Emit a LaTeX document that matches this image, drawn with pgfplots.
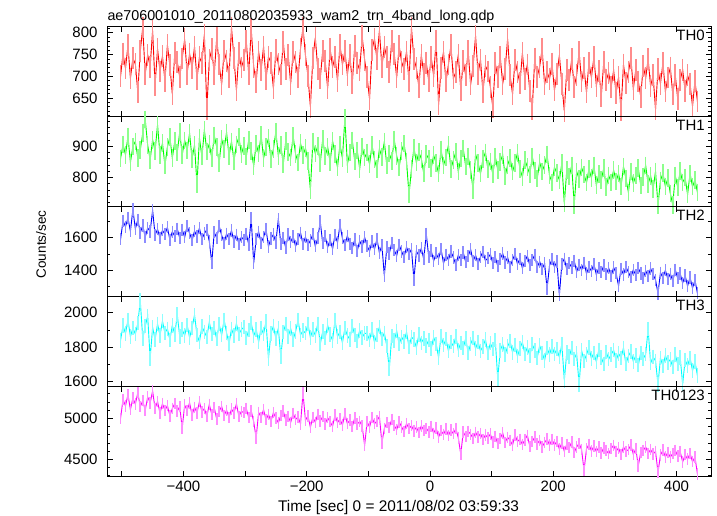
\documentclass[border=0pt]{standalone}
\usepackage{fontspec}
\setmainfont{Liberation Sans}
\usepackage{pgfplots}
\usepackage{pgfplotstable}
\pgfplotsset{compat=1.18}
\definecolor{qred}{RGB}{255,0,0}
\definecolor{qgreen}{RGB}{0,255,0}
\definecolor{qblue}{RGB}{0,0,255}
\definecolor{qcyan}{RGB}{0,255,255}
\definecolor{qmag}{RGB}{255,0,255}

\pgfplotstableread{
t a b c d e
-502 700 860 1590 1840 5000
-498 752 905 1705 1925 5230
-494 718 872 1668 1880 5150
-490 771 931 1722 1958 5290
-486 695 848 1640 1862 5105
-482 742 899 1775 1911 5248
-478 728 915 1655 1876 5172
-474 664 862 1712 1939 5311
-470 758 888 1630 2070 5140
-466 812 941 1676 1850 5215
-462 705 985 1604 1922 5096
-458 749 903 1661 1980 5260
-454 722 856 1638 1735 5188
-450 805 920 1770 1915 5332
-446 680 884 1617 1844 5120
-442 763 968 1652 1935 5205
-438 711 871 1599 1868 5062
-434 746 909 1646 1951 5178
-430 690 838 1621 1882 5095
-426 772 897 1664 1907 5154
-422 725 929 1588 1843 5030
-418 659 862 1637 1926 5120
-414 754 916 1609 1874 5178
-410 733 879 1655 1990 5087
-406 698 945 1598 1861 5142
-402 741 872 1650 1902 4880
-398 785 918 1603 1868 5160
-394 706 886 1672 1929 5095
-390 752 941 1628 1856 5188
-386 719 859 1584 1913 5040
-382 768 903 1641 1987 5135
-378 693 778 1607 1872 5066
-374 744 925 1659 1831 5202
-370 730 866 1592 1920 5078
-366 796 951 1626 1889 5119
-362 625 883 1650 1858 5025
-358 737 907 1577 1945 5170
-354 762 861 1445 1878 5048
-350 705 934 1633 1912 5129
-346 788 897 1598 1846 4990
-342 727 846 1672 1933 5084
-338 681 923 1615 1870 5146
-334 758 890 1569 1959 5033
-330 736 944 1624 1883 5098
-326 699 868 1591 1821 5010
-322 812 915 1645 1906 5112
-318 742 852 1576 1868 5064
-314 668 905 1618 1937 5177
-310 753 929 1563 1875 5021
-306 720 874 1604 1902 5085
-302 738 901 1587 1917 5068
-298 781 866 1625 1852 5120
-294 704 920 1558 1899 5006
-290 809 884 1720 1941 5091
-286 722 837 1442 1866 4958
-282 686 908 1590 1903 4760
-278 757 876 1637 1830 5073
-274 714 935 1569 1912 5012
-270 768 861 1603 1876 5105
-266 693 897 1654 1949 4982
-262 745 925 1546 1735 5047
-258 731 858 1595 1880 4961
-254 672 890 1620 1922 5068
-250 760 946 1571 1851 5003
-246 728 869 1715 1909 4944
-242 704 903 1562 1745 5036
-238 779 842 1598 1887 5089
-234 716 916 1539 1934 4978
-230 748 881 1620 1862 5023
-226 683 863 1574 1908 4950
-222 756 932 1608 1845 5061
-218 733 874 1547 1891 4987
-214 697 848 1592 1957 5018
-210 764 909 1631 1870 4932
-206 812 871 1560 1898 5310
-202 748 893 1604 1881 4975
-198 701 852 1556 1934 5030
-194 630 760 1583 1857 4890
-190 742 914 1621 1902 5011
-186 789 876 1548 1869 4952
-182 717 901 1597 1936 5048
-178 695 845 1700 1818 4967
-174 758 922 1565 1891 5020
-170 736 868 1609 1853 4931
-166 672 897 1541 1927 5006
-162 763 849 1588 1874 4958
-158 721 916 1532 1840 4902
-154 745 874 1617 1958 5039
-150 690 832 1570 1862 4947
-146 772 905 1680 1889 4991
-142 727 861 1596 1826 4918
-138 758 990 1553 1910 5050
-134 703 842 1612 1868 4936
-130 749 879 1562 1845 4977
-126 685 918 1535 1923 4899
-122 770 851 1589 1871 5004
-118 731 886 1518 1836 4928
-114 714 827 1580 1898 4962
-110 792 899 1546 1857 4905
-106 738 863 1602 1881 4670
-102 698 880 1549 1879 4958
-98 648 842 1518 1841 4892
-94 761 903 1576 1902 5010
-90 786 857 1530 1829 4933
-86 739 826 1592 1872 4969
-82 805 891 1507 1916 5021
-78 722 865 1553 1848 4700
-74 768 914 1365 1883 4875
-70 744 838 1541 1807 4946
-66 709 876 1502 1672 4890
-62 781 853 1568 1865 4985
-58 752 921 1523 1838 4912
-54 697 869 1489 1894 4861
-50 770 832 1557 1817 4957
-46 733 884 1515 1860 4894
-42 716 908 1480 1833 4838
-38 757 851 1542 1888 4936
-34 688 745 1498 1802 4873
-30 811 826 1529 1859 4910
-26 740 895 1340 1844 4847
-22 719 847 1516 1799 4892
-18 676 881 1490 1873 4825
-14 748 859 1534 1826 4908
-10 705 812 1467 1851 4854
-6 731 874 1625 1810 4879
-2 690 858 1482 1842 4835
2 744 829 1521 1793 4901
6 701 871 1456 1857 4818
10 782 846 1503 1820 4882
14 635 812 1470 1741 4770
18 719 889 1529 1866 4849
22 756 838 1441 1812 4803
26 688 864 1494 1847 4868
30 727 903 1462 1779 4790
34 771 827 1515 1831 4856
38 695 855 1478 1806 4811
42 710 881 1432 1862 4874
46 749 818 1492 1784 4762
50 669 860 1463 1825 4560
54 735 892 1508 1797 4833
58 702 835 1449 1850 4779
62 758 867 1486 1768 4842
66 681 823 1528 1818 4806
70 723 760 1455 1853 4755
74 793 874 1491 1792 4829
78 706 846 1439 1831 4770
82 738 812 1482 1779 4814
86 664 858 1513 1805 4742
90 724 880 1458 1844 4798
94 711 827 1474 1768 4761
98 676 851 1497 1823 4808
102 628 810 1443 1790 4712
106 730 866 1480 1842 4779
110 698 824 1425 1617 4690
114 745 849 1469 1781 4753
118 683 872 1502 1816 4820
122 716 803 1447 1757 4706
126 786 839 1478 1804 4768
130 702 862 1421 1835 4731
134 659 818 1463 1770 4672
138 737 845 1499 1812 4794
142 709 878 1438 1748 4718
146 684 827 1470 1793 4745
150 753 801 1412 1829 4680
154 694 856 1455 1762 4737
158 727 833 1487 1798 4793
162 666 809 1429 1751 4659
166 625 867 1461 1817 4714
170 741 822 1494 1782 4770
174 699 796 1417 1739 4688
178 722 848 1452 1809 4732
182 763 819 1406 1768 4651
186 681 840 1440 1724 4704
190 710 873 1285 1795 4746
194 694 806 1428 1758 4673
198 729 784 1467 1803 4741
202 668 832 1419 1761 4676
206 705 813 1453 1789 4719
210 748 791 1245 1742 4625
214 682 845 1438 1818 4701
218 620 716 1470 1608 4598
222 715 823 1404 1770 4682
226 691 802 1442 1745 4641
230 739 838 1416 1796 4710
234 676 712 1458 1732 4582
238 702 819 1389 1763 4650
242 756 794 1433 1583 4695
246 688 831 1401 1781 4618
250 719 809 1446 1720 4365
254 663 783 1378 1757 4627
258 731 826 1420 1799 4682
262 697 798 1393 1734 4603
266 744 838 1437 1768 4661
270 678 775 1371 1716 4594
274 712 811 1414 1785 4649
278 655 792 1386 1741 4576
282 733 829 1428 1702 4640
286 691 769 1375 1772 4608
290 708 806 1412 1730 4568
294 675 784 1363 1758 4631
298 714 823 1416 1783 4671
302 661 787 1381 1722 4598
306 698 812 1302 1764 4639
310 622 770 1408 1738 4555
314 727 834 1372 1796 4650
318 684 796 1419 1701 4597
322 709 752 1386 1749 4618
326 742 818 1355 1775 4672
330 671 781 1401 1718 4561
334 715 806 1368 1752 4630
338 688 829 1412 1696 4420
342 653 774 1379 1768 4585
346 724 801 1349 1733 4608
350 696 838 1396 1759 4651
354 739 779 1361 1905 4574
358 677 805 1410 1707 4619
362 702 762 1373 1744 4563
366 624 819 1339 1721 4597
370 716 710 1255 1583 4340
374 683 790 1384 1737 4552
378 731 813 1352 1690 4611
382 665 771 1398 1752 4530
386 697 797 1345 1711 4584
390 720 748 1377 1729 4526
394 658 712 1331 1684 4572
398 703 806 1402 1758 4610
402 648 768 1349 1702 4541
406 691 821 1378 1741 4593
410 715 784 1320 1585 4468
414 667 799 1366 1726 4555
418 702 745 1301 1693 4502
422 683 812 1354 1739 4571
426 631 770 1289 1664 4470
430 689 792 1337 1718 4528
434 642 752 1256 1635 4320
}\lc

\pgfplotsset{
  panel/.style={
    scale only axis, width=604pt, height=90pt,
    xmin=-524, xmax=456,
    xtick={-500,-400,...,400},
    xticklabels={},
    major tick length=5.5pt, minor tick length=3pt,
    tick style={black, line width=0.6pt},
    axis line style={line width=0.8pt},
    tick label style={font=\fontsize{15}{18}\selectfont},
    yticklabel style={xshift=-6pt},
    /pgf/number format/assume math mode=true,
    /pgf/number format/1000 sep={},
    anchor=south west,
  },
  errs/.style 2 args={only marks, mark=|, mark size=#2pt, forget plot,
    mark options={draw=#1!45!white, line width=1.6pt}},
  lnp/.style={color=#1, line width=0.9pt, mark=none},
}
\tikzset{
  lbl/.style={anchor=north east, inner sep=0pt, xshift=-6pt, yshift=-3pt,
    font=\fontsize{15}{18}\selectfont},
}

\begin{document}
\begin{tikzpicture}[x=1pt,y=1pt]
\useasboundingbox (0,0) rectangle (717,516);

\begin{axis}[panel, at={(107pt,399.3pt)}, ymin=607, ymax=814,
  ytick={650,700,750,800}, minor ytick={610,620,...,810}]
\addplot[errs={qred}{10.9}] table[x=t,y=a] {\lc};
\addplot[lnp=qred] table[x=t,y=a] {\lc};
\node[lbl] at (rel axis cs:1,1) {TH0};
\end{axis}

\begin{axis}[panel, at={(107pt,309.3pt)}, ymin=706, ymax=994,
  ytick={800,900}, minor ytick={720,740,...,980}]
\addplot[errs={qgreen}{8.8}] table[x=t,y=b] {\lc};
\addplot[lnp=qgreen] table[x=t,y=b] {\lc};
\node[lbl] at (rel axis cs:1,1) {TH1};
\end{axis}

\begin{axis}[panel, at={(107pt,219.3pt)}, ymin=1235, ymax=1792,
  ytick={1400,1600}, minor ytick={1300,1500,1700}]
\addplot[errs={qblue}{6.1}] table[x=t,y=c] {\lc};
\addplot[lnp=qblue] table[x=t,y=c] {\lc};
\node[lbl] at (rel axis cs:1,1) {TH2};
\end{axis}

\begin{axis}[panel, at={(107pt,129.3pt)}, ymin=1571, ymax=2093,
  ytick={1600,1800,2000}, minor ytick={1700,1900}]
\addplot[errs={qcyan}{7.2}] table[x=t,y=d] {\lc};
\addplot[lnp=qcyan] table[x=t,y=d] {\lc};
\node[lbl] at (rel axis cs:1,1) {TH3};
\end{axis}

\begin{axis}[panel, at={(107pt,39.3pt)}, ymin=4288, ymax=5385,
  ytick={4500,5000}, minor ytick={4300,4400,...,5300},
  xticklabels={,−400,,−200,,0,,200,,400},
  xticklabel style={yshift=-1pt}]
\addplot[errs={qmag}{5.7}] table[x=t,y=e] {\lc};
\addplot[lnp=qmag] table[x=t,y=e] {\lc};
\node[lbl] at (rel axis cs:1,1) {TH0123};
\end{axis}

\node[anchor=base west, inner sep=0pt, font=\fontsize{14.3}{17}\selectfont]
  at (107.3,495.3) {ae706001010\_20110802035933\_wam2\_trn\_4band\_long.qdp};
\node[anchor=base, inner sep=0pt, font=\fontsize{15.4}{18}\selectfont]
  at (398.5,4.3) {Time [sec] 0 = 2011/08/02 03:59:33};
\node[rotate=90, inner sep=0pt, font=\fontsize{13.5}{16}\selectfont]
  at (41,271.5) {Counts/sec};
\end{tikzpicture}
\end{document}
